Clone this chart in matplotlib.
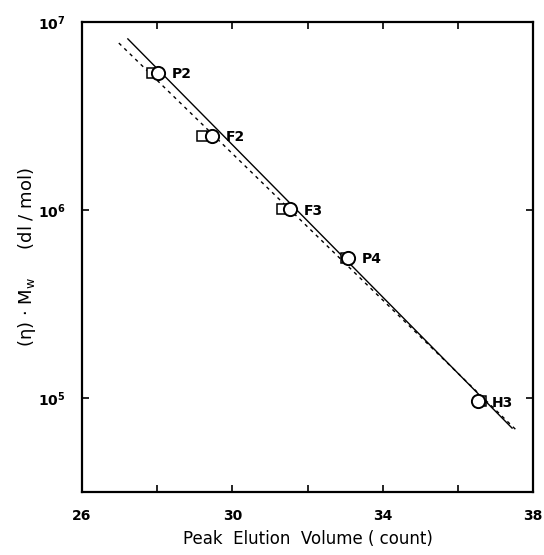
import numpy as np
import matplotlib.pyplot as plt

# Peak elution volume (count) and hydrodynamic volume [eta]*Mw (dl/mol)
samples = ['P2', 'F2', 'F3', 'P4', 'H3']
circle_vol = [28.02, 29.46, 31.53, 33.08, 36.54]
circle_hv = [5.36e6, 2.48e6, 1.01e6, 5.56e5, 9.6e4]
square_vol = [27.86, 29.19, 31.32, 33.02, 36.62]
square_hv = [5.36e6, 2.48e6, 1.01e6, 5.56e5, 9.6e4]

# calibration lines: end points (volume, log10 of [eta]*Mw)
solid_vol = [27.22, 37.44]
solid_log = [6.91, 4.84]
dashed_vol = [26.98, 37.60]
dashed_log = [6.888, 4.82]

fig = plt.figure(figsize=(5.44, 5.55), dpi=100)
ax = fig.add_axes([0.1507, 0.1135, 0.8293, 0.8469])

ax.plot(solid_vol, 10 ** np.array(solid_log), color='black', lw=1.0)
ax.plot(dashed_vol, 10 ** np.array(dashed_log), color='black', lw=1.0,
        ls=(0, (2.5, 3)))

ax.plot(square_vol, square_hv, ls='none', marker='s', ms=7, mfc='white',
        mec='black', mew=1.1)
ax.plot(circle_vol, circle_hv, ls='none', marker='o', ms=9.5, mfc='white',
        mec='black', mew=1.4)

for name, x, y in zip(samples, circle_vol, circle_hv):
    ax.annotate(name, (x, y), xytext=(10, -1), textcoords='offset points',
                va='center', ha='left', fontsize=10, fontweight='bold')

ax.set_yscale('log')
ax.set_xlim(26, 38)
ax.set_ylim(10 ** 4.5, 1e7)

ax.set_xticks([26, 28, 30, 32, 34, 36, 38])
ax.set_xticklabels(['26', '', '30', '', '34', '', '38'], fontweight='bold')
ax.set_yticks([1e5, 1e6, 1e7])
ax.yaxis.set_minor_locator(plt.NullLocator())
ax.tick_params(direction='in', top=True, right=True, length=5, width=1.2,
               labelsize=10, pad=12)
for lab in ax.get_yticklabels():
    lab.set_fontweight('bold')

for sp in ax.spines.values():
    sp.set_linewidth(1.6)

ax.set_xlabel('Peak  Elution  Volume ( count)', fontsize=12, labelpad=5)
ax.set_ylabel(r'(η) $\cdot$ $\mathregular{M_w}$     (dl / mol)', fontsize=13,
              labelpad=0)

fig.savefig('out.png', dpi=100)
plt.close(fig)
